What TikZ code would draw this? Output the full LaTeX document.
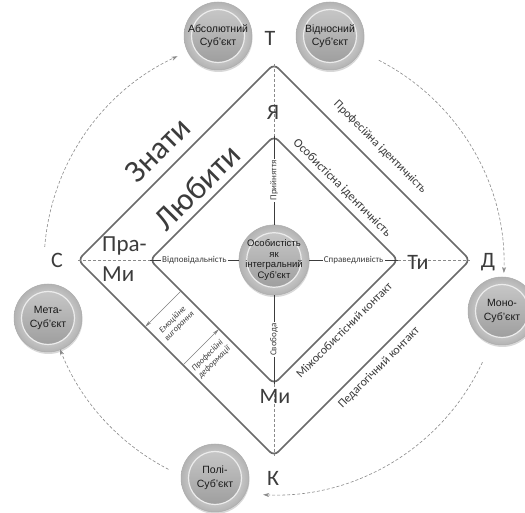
\documentclass[tikz,border=0pt]{standalone}
\usepackage{fontspec}
\setmainfont{Carlito}
\newfontfamily\ballfont{Liberation Sans}
\usetikzlibrary{arrows.meta,shadows}
\definecolor{txt}{HTML}{3C3C3C}
\definecolor{edgec}{HTML}{6A6A6A}
\definecolor{dashc}{HTML}{8A8A8A}
\begin{document}
\begin{tikzpicture}[x=1pt,y=1pt]
\tikzset{
  edgeline/.style={draw=edgec, line width=1.7pt, rounded corners=6pt, line join=round},
  guide/.style={draw=dashc, densely dashed, line width=0.6pt},
  spoke/.style={draw=txt, line width=0.8pt},
  orbit/.style={draw=dashc, densely dashed, line width=0.6pt, -{Stealth[length=6pt,width=4pt]}},
  lbl/.style={fill=white, inner sep=1.2pt, text=txt, font=\fontsize{9}{10}\selectfont},
  pole/.style={text=txt, font=\fontsize{22}{24}\selectfont, inner sep=0pt},
  sidetxt/.style={text=txt, font=\fontsize{12}{14}\selectfont, inner sep=0pt},
  smalltxt/.style={text=txt, font=\itshape\fontsize{8.5}{9.5}\selectfont, inner sep=0pt, align=center},
  bigword/.style={text=txt, font=\fontsize{32}{34}\selectfont, inner sep=0pt},
  ballnode/.style={circle, minimum size=#1, inner sep=0pt, align=center, text=black!90,
    font=\ballfont\fontsize{10.5}{13.5}\selectfont,
    inner color=white, outer color=gray!60, draw=gray!65, line width=0.5pt,
    drop shadow={opacity=0.3, shadow xshift=0.5pt, shadow yshift=-2pt},
    path picture={
      \shade[top color=gray!40, bottom color=gray!80]
        (path picture bounding box.center) circle[radius=0.39*#1];
      \draw[white!85!gray, line width=1.2pt] (path picture bounding box.center) circle[radius=0.39*#1];
    }},
  tinyarrow/.style={draw=gray, line width=0.5pt, -{Stealth[length=7pt,width=3pt]}},
}
\useasboundingbox (0,0) rectangle (525,513);
\fill[white] (0,0) rectangle (525,513);

% geometry
\coordinate (O) at (274,253);
\coordinate (oT) at (274,449);
\coordinate (oR) at (470,253);
\coordinate (oB) at (274,57);
\coordinate (oL) at (78,253);
\coordinate (iT) at (274,377);
\coordinate (iR) at (398,253);
\coordinate (iB) at (274,129);
\coordinate (iL) at (150,253);
\coordinate (A) at (274,248);

% diamonds
\draw[edgeline] (oT) -- (oR) -- (oB) -- (oL) -- cycle;
\draw[edgeline] (iT) -- (iR) -- (iB) -- (iL) -- cycle;

% dashed guides
\draw[guide] (oL) -- (iL);
\draw[guide] (iR) -- (oR);
\draw[guide] (oT) -- (iT);
\draw[guide] (iB) -- (oB);

% center ball
\node[ballnode=70pt, font=\ballfont\fontsize{9.5}{10.5}\selectfont] (ctr) at (O)
  {Особистість\\як\\інтегральний\\Суб’єкт};

% spokes
\draw[spoke] (iL) -- node[lbl]{Відповідальність} (ctr);
\draw[spoke] (iR) -- node[lbl]{Справедливість} (ctr);
\draw[spoke] (iT) -- node[lbl, rotate=90]{Прийняття} (ctr);
\draw[spoke] (iB) -- node[lbl, rotate=90]{Свобода} (ctr);

% outer balls
\node[ballnode=68pt] (abs) at (218,477) {Абсолютний\\Суб’єкт};
\node[ballnode=68pt] (vidn) at (330,477) {Відносний\\Суб’єкт};
\node[ballnode=68pt] (mono) at (502,202) {Моно-\\Суб’єкт};
\node[ballnode=68pt] (meta) at (48,195) {Мета-\\Суб’єкт};
\node[ballnode=68pt] (poli) at (215,35) {Полі-\\Суб’єкт};

% orbit arcs
\draw[orbit] ([shift={(175.5:230pt)}]A) arc[start angle=175.5, end angle=114.8, radius=230pt];
\draw[orbit] ([shift={(62.9:230pt)}]A) arc[start angle=62.9, end angle=-2, radius=230pt];
\draw[orbit] ([shift={(-25:230pt)}]A) arc[start angle=-25, end angle=-92.7, radius=230pt];
\draw[orbit] ([shift={(-117.3:230pt)}]A) arc[start angle=-117.3, end angle=-158.5, radius=230pt];

% pole letters
\node[pole] (lT) at (270,475) {Т};
\node[pole] (lD) at (488,251) {Д};
\node[pole] (lS) at (57,253) {С};
\node[pole] (lK) at (273,35) {К};
\node[pole] (lYa) at (273,401) {Я};
\node[pole] (lTy) at (418,251) {Ти};
\node[pole] (lMy) at (275,117) {Ми};
\node[pole, anchor=west, font=\fontsize{23}{26}\selectfont] (lPra) at (102,267) {Пра-};
\node[pole, anchor=west, font=\fontsize{23}{26}\selectfont] (lMy2) at (102,239) {Ми};

% big words
\node[bigword, rotate=45] (znaty) at (158,363) {Знати};
\node[bigword, rotate=45] (lubyty) at (197,326) {Любити};

% side labels
\node[sidetxt, rotate=-45] (prof) at (380,366) {Професійна ідентичність};
\node[sidetxt, rotate=-45, font=\fontsize{12.5}{14}\selectfont] (osob) at (342,325) {Особистісна ідентичність};
\node[sidetxt, rotate=45] (mizh) at (344,183) {Міжособистісний контакт};
\node[sidetxt, rotate=45] (ped) at (379,145) {Педагогічний контакт};

% burnout / deformation
\coordinate (e1) at (181,222);
\coordinate (e2) at (145,186);
\draw[tinyarrow] (e1) -- (e2);
\node[smalltxt, rotate=45] (emo) at (176,190) {Емоційне\\вигорання};
\coordinate (d1) at (183,148);
\coordinate (d2) at (219,184);
\draw[tinyarrow] (d1) -- (d2);
\node[smalltxt, rotate=45] (def) at (211,154) {Професійні\\деформації};
\end{tikzpicture}
\end{document}
